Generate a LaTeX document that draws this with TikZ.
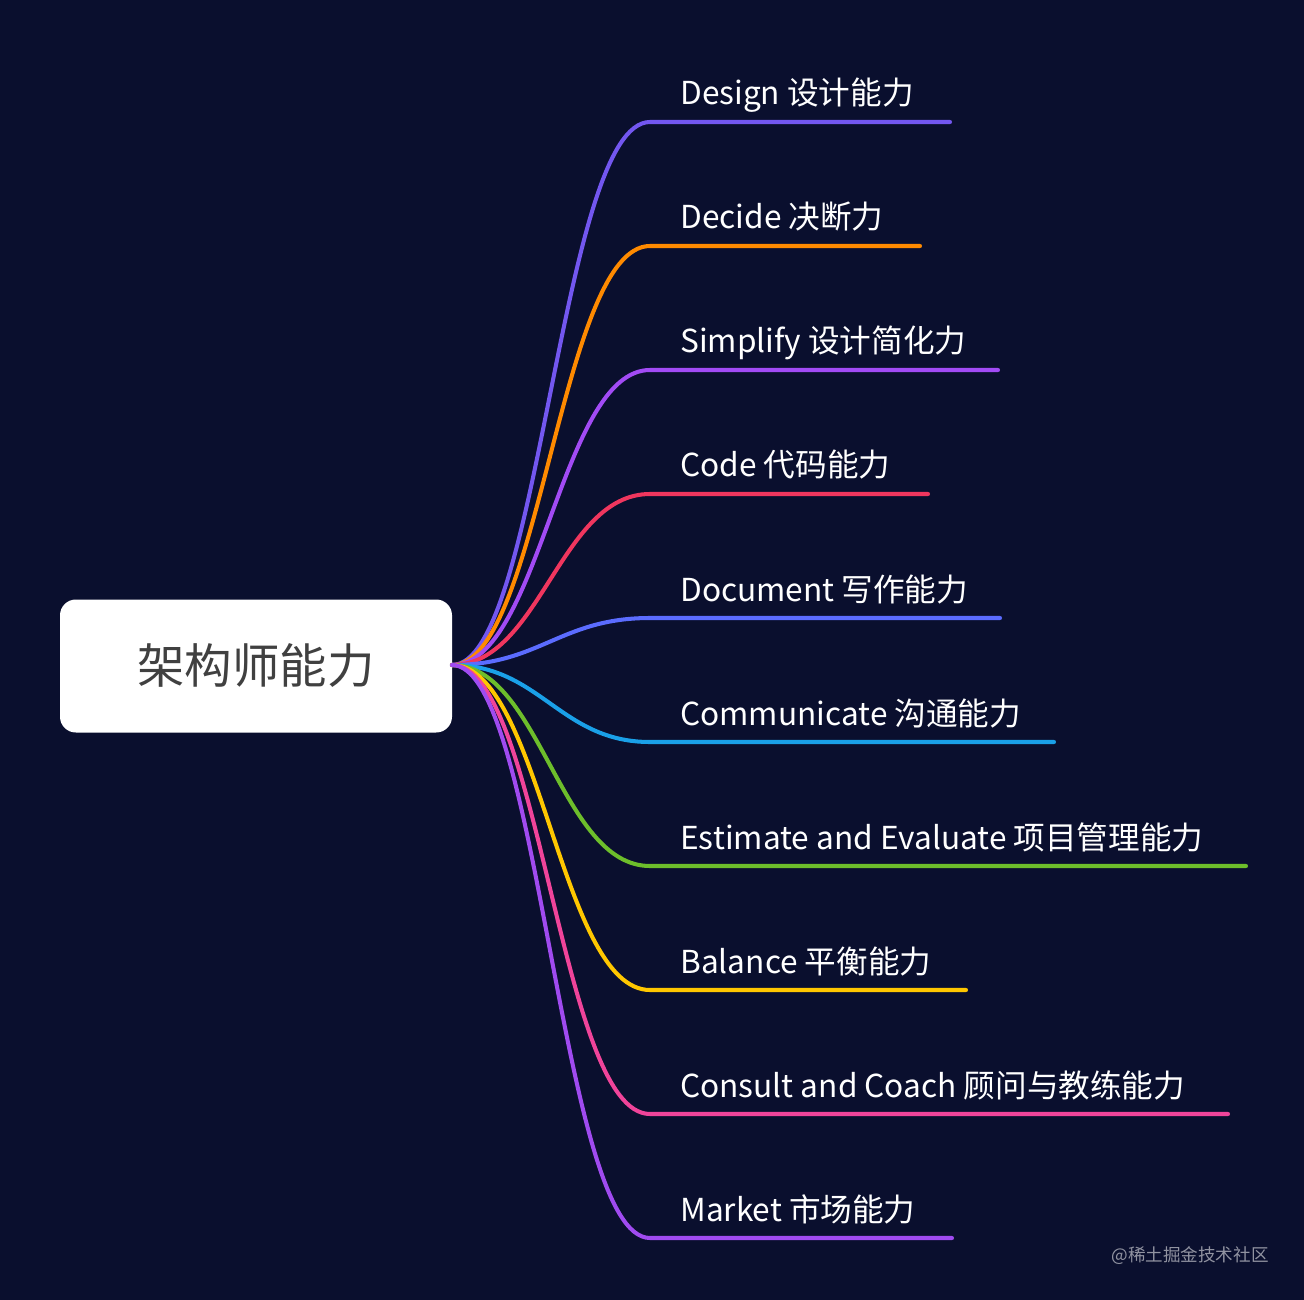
\documentclass[tikz,border=0pt]{standalone}
\usepackage{fontspec}
\setmainfont{Noto Sans CJK SC}
\usetikzlibrary{positioning}
\definecolor{bg}{HTML}{0A0F2E}
\definecolor{cA}{HTML}{7357F0}
\definecolor{cB}{HTML}{FF8A00}
\definecolor{cC}{HTML}{A24BF5}
\definecolor{cD}{HTML}{F0365E}
\definecolor{cE}{HTML}{5B6CFF}
\definecolor{cF}{HTML}{1AA0E8}
\definecolor{cG}{HTML}{6DBE2B}
\definecolor{cH}{HTML}{FFC700}
\definecolor{cI}{HTML}{F0449A}
\definecolor{cJ}{HTML}{A04BF0}
\tikzset{
  rootbox/.style={fill=white, rounded corners=9pt, minimum width=392*0.02cm,
    minimum height=133*0.02cm, text=black!75, font=\fontsize{27}{30}\selectfont},
  leaf/.style={anchor=base west, inner sep=0pt, text=white, font=\fontsize{18}{20}\selectfont},
  branch/.style={line width=2.3pt, line cap=round}
}
\begin{document}
\begin{tikzpicture}[x=0.02cm, y=-0.02cm]
  \fill[bg] (0,0) rectangle (1304,1300);
  \useasboundingbox (0,0) rectangle (1304,1300);
  \node[rootbox] (root) at (256,666) {架构师能力};
  \coordinate (hub) at (452,665);
  \foreach \i/\y/\xe/\col/\txt in {
    1/122/950/cA/{Design 设计能力},
    2/246/920/cB/{Decide 决断力},
    3/370/998/cC/{Simplify 设计简化力},
    4/494/928/cD/{Code 代码能力},
    5/618/1000/cE/{Document 写作能力},
    6/742/1054/cF/{Communicate 沟通能力},
    7/866/1246/cG/{Estimate and Evaluate 项目管理能力},
    8/990/966/cH/{Balance 平衡能力},
    9/1114/1228/cI/{Consult and Coach 顾问与教练能力},
    10/1238/952/cJ/{Market 市场能力}} {
    \coordinate (k\i) at (650,\y);
    \coordinate (e\i) at (\xe,\y);
    \draw[branch, \col] (hub) .. controls (540,665) and (560,\y) .. (k\i) -- (e\i);
    \node[leaf] (t\i) at (680,\y-17) {\txt};
  }
  \node[text=white!55!bg, font=\fontsize{10}{12}\selectfont] (mark) at (1190,1256) {@稀土掘金技术社区};
\end{tikzpicture}
\end{document}
